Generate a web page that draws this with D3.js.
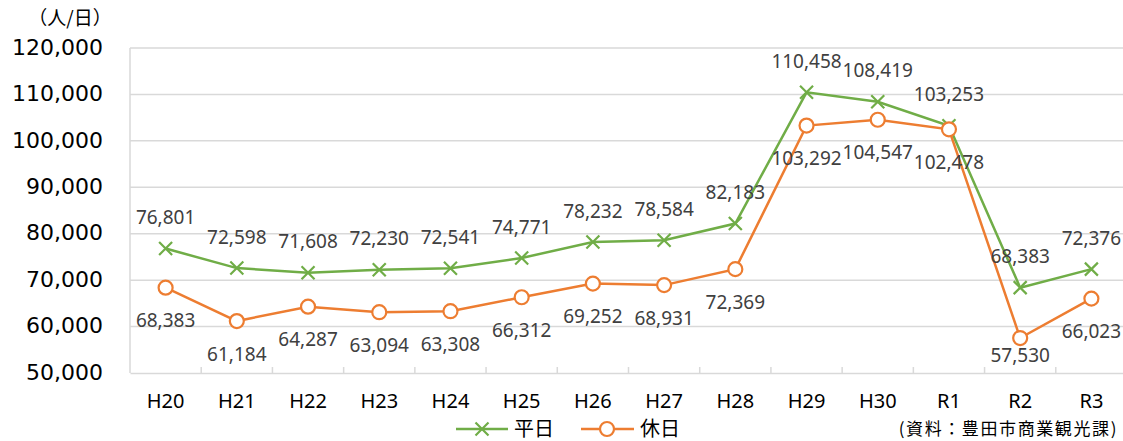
<!DOCTYPE html>
<html>
<head>
<meta charset="utf-8">
<script src="https://cdn.jsdelivr.net/npm/d3@7/dist/d3.min.js"></script>
<style>
  html, body { margin: 0; padding: 0; background: #fff; }
  svg { display: block; }
</style>
</head>
<body>
<svg id="chart" width="1123" height="441"></svg>
<script>
// 年度
const categories = ["H20","H21","H22","H23","H24","H25","H26","H27","H28","H29","H30","R1","R2","R3"];
// 平日 (人/日)
const weekday = [76801, 72598, 71608, 72230, 72541, 74771, 78232, 78584, 82183, 110458, 108419, 103253, 68383, 72376];
// 休日 (人/日)
const holiday = [68383, 61184, 64287, 63094, 63308, 66312, 69252, 68931, 72369, 103292, 104547, 102478, 57530, 66023];
// 縦軸目盛
const yTicks = [50000, 60000, 70000, 80000, 90000, 100000, 110000, 120000];

const GREEN = "#70AD47", ORANGE = "#ED7D31", GRID = "#D9D9D9";
const svg = d3.select("#chart");

const x = d3.scaleBand().domain(categories).range([130, 1127]);
const y = d3.scaleLinear().domain([50000, 120000]).range([373, 48]);
const cx = d => x(d) + x.bandwidth() / 2;
const fmt = d3.format(",");

// 目盛線
svg.append("g").selectAll("line").data(yTicks.slice(1)).join("line")
  .attr("x1", 130).attr("x2", 1127)
  .attr("y1", d => y(d)).attr("y2", d => y(d))
  .attr("stroke", GRID).attr("stroke-width", 1.5);

// 縦軸・横軸の線
svg.append("line").attr("x1", 130).attr("x2", 130).attr("y1", y(120000)).attr("y2", y(50000))
  .attr("stroke", GRID).attr("stroke-width", 1.5);
const xAxis = svg.append("g").attr("transform", `translate(0,${y(50000)})`)
  .call(d3.axisBottom(x).tickSize(0).tickPadding(21));
xAxis.select(".domain").attr("stroke", GRID).attr("stroke-width", 1.5);
xAxis.selectAll("text").attr("font-family", "'Noto Sans', sans-serif").attr("font-size", 20)
  .attr("fill", "#000");
// 区切り目盛 (上向き)
svg.append("g").selectAll("line").data(categories.slice(1)).join("line")
  .attr("x1", d => x(d)).attr("x2", d => x(d))
  .attr("y1", y(50000)).attr("y2", y(50000) - 6)
  .attr("stroke", GRID).attr("stroke-width", 1.5);

// 縦軸ラベル
const yAxis = svg.append("g").attr("transform", "translate(130,0)")
  .call(d3.axisLeft(y).tickValues(yTicks).tickFormat(fmt).tickSize(0).tickPadding(27));
yAxis.select(".domain").remove();
yAxis.selectAll("text").attr("font-family", "'DejaVu Sans', sans-serif").attr("font-size", 22)
  .attr("fill", "#000").attr("dy", "0.28em");

// 単位
svg.append("text").attr("x", 70).attr("y", 25).attr("text-anchor", "middle")
  .attr("font-family", "'Noto Sans CJK JP', sans-serif").attr("font-size", 19)
  .attr("fill", "#000").text("（人/日）");

const line = d3.line().x((d, i) => cx(categories[i])).y(d => y(d));

// 平日の線
svg.append("path").datum(weekday).attr("d", line)
  .attr("fill", "none").attr("stroke", GREEN).attr("stroke-width", 2.5);
// 休日の線
svg.append("path").datum(holiday).attr("d", line)
  .attr("fill", "none").attr("stroke", ORANGE).attr("stroke-width", 2.5);

// ×マーカー
function cross(g, px, py, s) {
  g.append("path").attr("d", `M${px - s},${py - s}L${px + s},${py + s}M${px - s},${py + s}L${px + s},${py - s}`)
    .attr("stroke", GREEN).attr("stroke-width", 2.2).attr("fill", "none");
}
const wm = svg.append("g");
weekday.forEach((v, i) => cross(wm, cx(categories[i]), y(v), 6.5));

// ○マーカー
svg.append("g").selectAll("circle").data(holiday).join("circle")
  .attr("cx", (d, i) => cx(categories[i])).attr("cy", d => y(d)).attr("r", 7)
  .attr("fill", "#fff").attr("stroke", ORANGE).attr("stroke-width", 2.2);

// データラベル (プロット領域内に収める)
const labelFont = "'Noto Sans', sans-serif";
svg.append("g").selectAll("text").data(weekday).join("text")
  .attr("x", (d, i) => cx(categories[i])).attr("y", d => y(d) - 31)
  .attr("dy", "0.35em").attr("text-anchor", "middle")
  .attr("font-family", labelFont).attr("font-size", 19).attr("fill", "#404040")
  .text(fmt);
svg.append("g").selectAll("text").data(holiday).join("text")
  .attr("x", (d, i) => cx(categories[i])).attr("y", d => Math.min(y(d) + 33, y(50000) - 18))
  .attr("dy", "0.35em").attr("text-anchor", "middle")
  .attr("font-family", labelFont).attr("font-size", 19).attr("fill", "#404040")
  .text(fmt);

// 凡例
const lg = svg.append("g");
const ly = 429;
lg.append("line").attr("x1", 456).attr("x2", 508).attr("y1", ly).attr("y2", ly)
  .attr("stroke", GREEN).attr("stroke-width", 2.5);
cross(lg, 482, ly, 6.5);
lg.append("text").attr("x", 514).attr("y", ly).attr("dy", "0.36em")
  .attr("font-family", "'Noto Sans CJK JP', sans-serif").attr("font-size", 20).attr("fill", "#000")
  .text("平日");
lg.append("line").attr("x1", 581).attr("x2", 634).attr("y1", ly).attr("y2", ly)
  .attr("stroke", ORANGE).attr("stroke-width", 2.5);
lg.append("circle").attr("cx", 607).attr("cy", ly).attr("r", 7)
  .attr("fill", "#fff").attr("stroke", ORANGE).attr("stroke-width", 2.2);
lg.append("text").attr("x", 640).attr("y", ly).attr("dy", "0.36em")
  .attr("font-family", "'Noto Sans CJK JP', sans-serif").attr("font-size", 20).attr("fill", "#000")
  .text("休日");

// 出典
svg.append("text").attr("x", 1118).attr("y", 429).attr("dy", "0.36em").attr("text-anchor", "end")
  .attr("font-family", "'Noto Sans CJK JP', sans-serif").attr("font-size", 17)
  .attr("letter-spacing", 1.6).attr("fill", "#000")
  .text("(資料：豊田市商業観光課)");
</script>
</body>
</html>
